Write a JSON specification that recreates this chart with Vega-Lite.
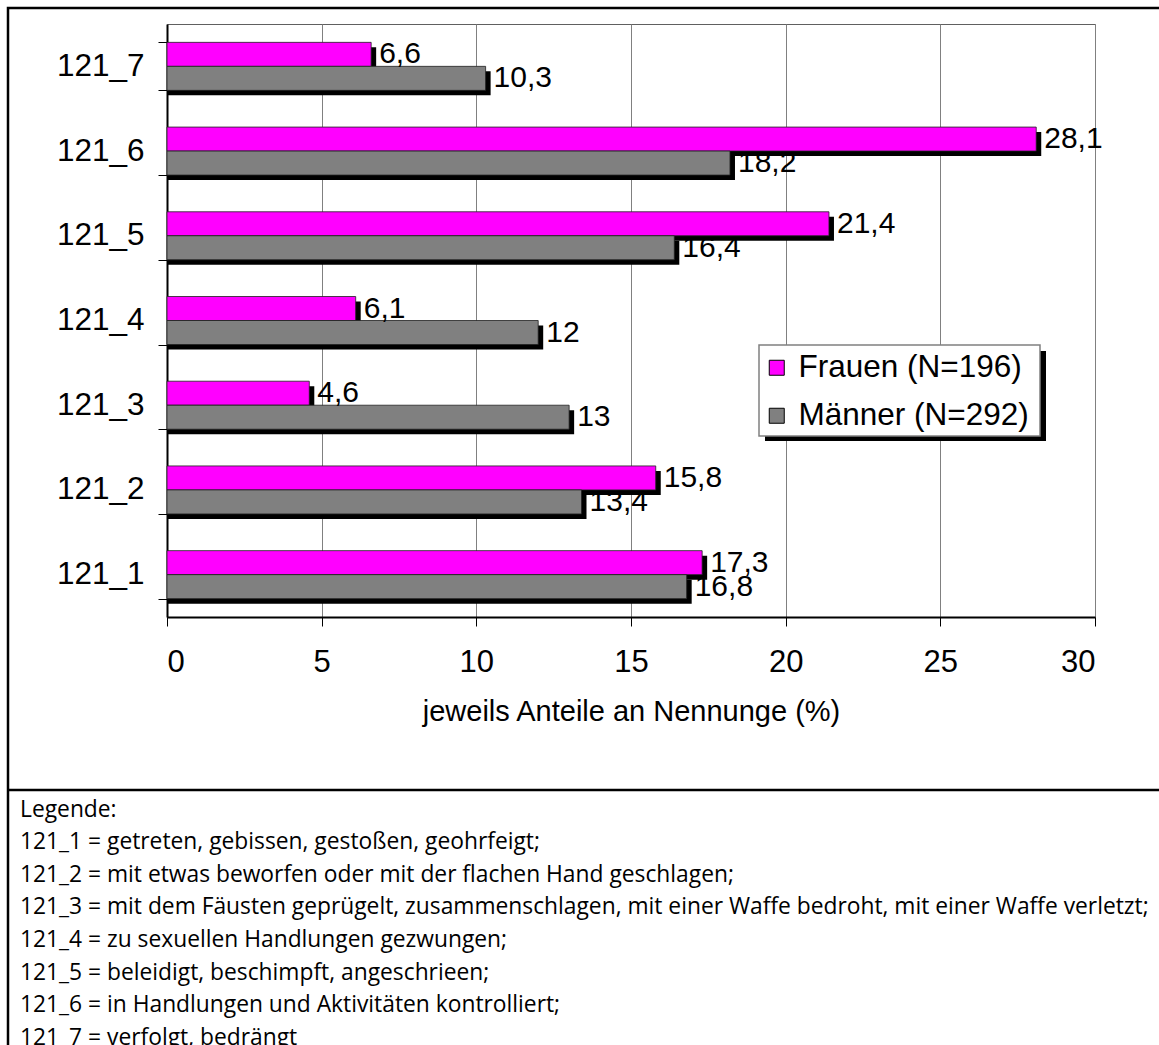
{
  "$schema": "https://vega.github.io/schema/vega-lite/v6.json",
  "width": 928,
  "height": 593,
  "autosize": {"type": "none"},
  "padding": {"left": 167, "top": 24, "right": 64, "bottom": 428},
  "background": "white",
  "data": {
    "values": [
      {"cat": "121_7", "series": "Frauen (N=196)", "value": 6.6},
      {"cat": "121_7", "series": "Männer (N=292)", "value": 10.3},
      {"cat": "121_6", "series": "Frauen (N=196)", "value": 28.1},
      {"cat": "121_6", "series": "Männer (N=292)", "value": 18.2},
      {"cat": "121_5", "series": "Frauen (N=196)", "value": 21.4},
      {"cat": "121_5", "series": "Männer (N=292)", "value": 16.4},
      {"cat": "121_4", "series": "Frauen (N=196)", "value": 6.1},
      {"cat": "121_4", "series": "Männer (N=292)", "value": 12},
      {"cat": "121_3", "series": "Frauen (N=196)", "value": 4.6},
      {"cat": "121_3", "series": "Männer (N=292)", "value": 13},
      {"cat": "121_2", "series": "Frauen (N=196)", "value": 15.8},
      {"cat": "121_2", "series": "Männer (N=292)", "value": 13.4},
      {"cat": "121_1", "series": "Frauen (N=196)", "value": 17.3},
      {"cat": "121_1", "series": "Männer (N=292)", "value": 16.8}
    ]
  },
  "encoding": {
    "y": {
      "field": "cat",
      "type": "nominal",
      "sort": ["121_7", "121_6", "121_5", "121_4", "121_3", "121_2", "121_1"],
      "scale": {"paddingInner": 0.433, "paddingOuter": 0.2165},
      "axis": {
        "title": null,
        "tickBand": "extent",
        "tickSize": 9,
        "tickColor": "#000000",
        "tickWidth": 1,
        "domainColor": "#000000",
        "domainWidth": 2,
        "labelFontSize": 31.5,
        "labelPadding": 14,
        "grid": false
      }
    },
    "x": {
      "field": "value",
      "type": "quantitative",
      "stack": null,
      "scale": {"domain": [0, 30], "nice": false},
      "axis": {
        "title": "jeweils Anteile an Nennunge (%)",
        "values": [0, 5, 10, 15, 20, 25, 30],
        "tickSize": 9,
        "tickColor": "#000000",
        "domainColor": "#000000",
        "domainWidth": 2,
        "labelFontSize": 31,
        "labelPadding": 21,
        "titleFontSize": 29,
        "titleFontWeight": "normal",
        "titlePadding": 20,
        "grid": true,
        "gridColor": "#808080",
        "gridWidth": 1,
        "gridOpacity": 1
      }
    }
  },
  "layer": [
    {
      "data": {"values": [{}]},
      "mark": {"type": "rect", "fill": null, "stroke": "#000000", "strokeWidth": 2.5, "clip": false},
      "encoding": {
        "x": {"value": -159},
        "x2": {"value": 1010},
        "y": {"value": -16},
        "y2": {"value": 1040}
      }
    },
    {
      "data": {"values": [{}]},
      "mark": {"type": "rule", "stroke": "#000000", "strokeWidth": 2.5, "clip": false},
      "encoding": {
        "x": {"value": -159},
        "x2": {"value": 1010},
        "y": {"value": 766}
      }
    },
    {
      "data": {"values": [{}]},
      "mark": {
        "type": "text",
        "align": "left",
        "baseline": "alphabetic",
        "font": "Open Sans",
        "fontSize": 22.8,
        "lineHeight": 32.6,
        "color": "#000000"
      },
      "encoding": {
        "x": {"value": -147},
        "y": {"value": 792.7},
        "text": {
          "value": [
            "Legende:",
            "121_1 = getreten, gebissen, gestoßen, geohrfeigt;",
            "121_2 = mit etwas beworfen oder mit der flachen Hand geschlagen;",
            "121_3 = mit dem Fäusten geprügelt, zusammenschlagen, mit einer Waffe bedroht, mit einer Waffe verletzt;",
            "121_4 = zu sexuellen Handlungen gezwungen;",
            "121_5 = beleidigt, beschimpft, angeschrieen;",
            "121_6 = in Handlungen und Aktivitäten kontrolliert;",
            "121_7 = verfolgt, bedrängt"
          ]
        }
      }
    },
    {
      "data": {"values": [{}]},
      "mark": {"type": "rule", "stroke": "#000000", "strokeWidth": 2.5},
      "encoding": {
        "x": {"datum": 30},
        "y": {"value": 0},
        "y2": {"value": 593}
      }
    },
    {
      "data": {"values": [{}]},
      "mark": {"type": "rect", "fill": "#000000"},
      "encoding": {
        "x": {"value": 598},
        "x2": {"value": 879},
        "y": {"value": 327},
        "y2": {"value": 417}
      }
    },
    {
      "data": {"values": [{}]},
      "mark": {"type": "rect", "fill": "#FFFFFF", "stroke": "#808080", "strokeWidth": 1.5},
      "encoding": {
        "x": {"value": 592},
        "x2": {"value": 873},
        "y": {"value": 321},
        "y2": {"value": 412}
      }
    },
    {
      "mark": {
        "type": "bar",
        "fill": "#000000",
        "height": 24,
        "xOffset": 5,
        "x2Offset": 5,
        "yOffset": {"expr": "datum.series === 'Frauen (N=196)' ? -7 : 17"}
      },
      "encoding": {}
    },
    {
      "mark": {
        "type": "bar",
        "height": 24,
        "stroke": "#202020",
        "strokeWidth": 1,
        "strokeOpacity": 0.8,
        "yOffset": {"expr": "datum.series === 'Frauen (N=196)' ? -12 : 12"}
      },
      "encoding": {
        "color": {
          "field": "series",
          "type": "nominal",
          "scale": {"domain": ["Frauen (N=196)", "Männer (N=292)"], "range": ["#FF00FF", "#808080"]},
          "legend": {
            "title": null,
            "orient": "none",
            "legendX": 594,
            "legendY": 328,
            "symbolType": "square",
            "symbolSize": 225,
            "symbolStrokeColor": "#000000",
            "symbolStrokeWidth": 1,
            "symbolOpacity": 1,
            "labelFontSize": 31.5,
            "labelColor": "#000000",
            "labelOffset": 6,
            "labelLimit": 0,
            "rowPadding": 15,
            "padding": 0
          }
        }
      }
    },
    {
      "mark": {
        "type": "text",
        "align": "left",
        "baseline": "middle",
        "dx": 8,
        "fontSize": 30,
        "color": "#000000",
        "yOffset": {"expr": "datum.series === 'Frauen (N=196)' ? -12 : 12"}
      },
      "encoding": {
        "text": {"field": "value", "type": "quantitative", "format": "~g"}
      }
    }
  ],
  "config": {
    "font": "Liberation Sans",
    "locale": {"number": {"decimal": ",", "thousands": ".", "grouping": [3], "currency": ["", " €"]}},
    "axis": {"labelColor": "#000000", "titleColor": "#000000", "labelFont": "Liberation Sans", "titleFont": "Liberation Sans"},
    "legend": {"labelFont": "Liberation Sans"},
    "view": {"stroke": "#606060", "strokeWidth": 1}
  }
}
